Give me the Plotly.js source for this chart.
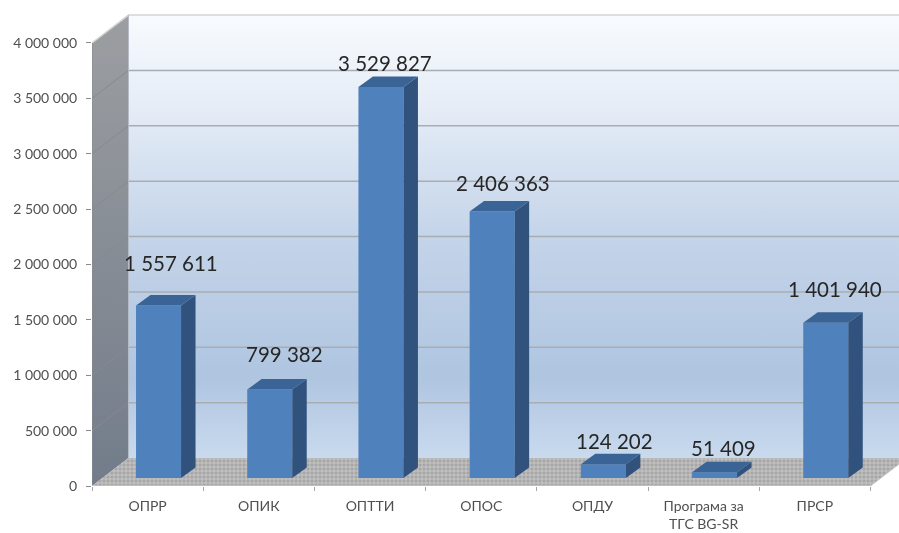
<!DOCTYPE html>
<html>
<head>
<meta charset="utf-8">
<script src="https://cdn.plot.ly/plotly-3.0.1.min.js"></script>
<style>
html,body{margin:0;padding:0;background:#fff;overflow:hidden}
#chart{width:899px;height:533px;filter:blur(0.6px)}
</style>
</head>
<body>
<div id="chart"></div>
<script>
const categories = ["ОПРР","ОПИК","ОПТТИ","ОПОС","ОПДУ","Програма за<br>ТГС BG-SR","ПРСР"];
const values = [1557611,799382,3529827,2406363,124202,51409,1401940];
const valueLabels = ["1 557 611","799 382","3 529 827","2 406 363","124 202","51 409","1 401 940"];
const yTicks = [0,500000,1000000,1500000,2000000,2500000,3000000,3500000,4000000];
const yTickLabels = ["0","500 000","1 000 000","1 500 000","2 000 000","2 500 000","3 000 000","3 500 000","4 000 000"];
const labelDx = [12,15,4,11,11,9,9];
const labelDy = [-43,-35,-24,-29,-23,-24,-34];

const font = "Lato, 'Open Sans', sans-serif";
const xMin = -0.5, xMax = 6.757, yMax = 4343000;
const wallDx = 0.328, wallDy = 252000;
const barBase = 72000, barLeft = -0.104, barWidth = 0.405, sideDx = 0.13, sideDy = 95000;
const backL = xMin + wallDx;
const n = categories.length;

const traces = [];
// back wall
traces.push({x:[backL,xMax+1,xMax+1,backL,backL],y:[wallDy,wallDy,4000000+wallDy,4000000+wallDy,wallDy],
  mode:'none',fill:'toself',
  fillgradient:{type:'vertical',colorscale:[[0,'#c9daee'],[0.18,'#afc5e0'],[0.5,'#c4d4e9'],[0.8,'#e6edf7'],[1,'#f8fbfe']]},
  hoverinfo:'skip'});
// side wall
traces.push({x:[xMin,backL,backL,xMin,xMin],y:[0,wallDy,4000000+wallDy,4000000,0],
  mode:'none',fill:'toself',
  fillgradient:{type:'vertical',colorscale:[[0,'#727c8a'],[1,'#9c9ea1']]},
  hoverinfo:'skip'});
// floor
traces.push({x:[xMin,backL,n-0.5+wallDx,n-0.5,xMin],y:[0,wallDy,wallDy,0,0],
  mode:'none',fill:'toself',fillcolor:'#b4b4b4',
  fillpattern:{shape:'+',fgcolor:'#d4d4d4',bgcolor:'#a6a6a6',size:4,solidity:0.3},
  hoverinfo:'skip'});
// gridlines
const gx=[],gy=[],dx=[],dy=[];
yTicks.slice(1,-1).forEach(v=>{gx.push(backL,xMax+1,null);gy.push(v+wallDy,v+wallDy,null);dx.push(xMin,backL,null);dy.push(v,v+wallDy,null);});
traces.push({x:gx,y:gy,mode:'lines',line:{color:'#a9adb2',width:1.5},hoverinfo:'skip'});
traces.push({x:dx,y:dy,mode:'lines',line:{color:'#868a90',width:1},hoverinfo:'skip'});
// top edge of wall
traces.push({x:[xMin,backL,xMax+1],y:[4000000,4000000+wallDy,4000000+wallDy],mode:'lines',line:{color:'#d2d4d6',width:1.5},hoverinfo:'skip'});
// back-left wall edge
traces.push({x:[backL,backL],y:[wallDy,4000000+wallDy],mode:'lines',line:{color:'#b5bcc5',width:1},hoverinfo:'skip'});
// axes lines
traces.push({x:[xMin,xMin],y:[0,4000000],mode:'lines',line:{color:'#8a8a8a',width:1},hoverinfo:'skip',cliponaxis:false});
traces.push({x:[xMin,n-0.5],y:[0,0],mode:'lines',line:{color:'#c4c4c4',width:1.5},hoverinfo:'skip',cliponaxis:false});
// floor right edge
traces.push({x:[n-0.5,n-0.5+wallDx],y:[0,wallDy],mode:'lines',line:{color:'#c8c8c8',width:1},hoverinfo:'skip'});

// bar fronts
traces.push({type:'bar',x:values.map((_,i)=>i),y:values,base:barBase,width:barWidth,offset:barLeft,
  marker:{color:'#4f81bd',line:{width:0}},xaxis:'x2',yaxis:'y2',hoverinfo:'skip'});
// bar sides and tops
const sx=[],sy=[],tx=[],ty=[];
values.forEach((v,i)=>{
  const l=i+barLeft,r=l+barWidth,t=v+barBase;
  sx.push(r,r+sideDx,r+sideDx,r,r,null);
  sy.push(barBase,barBase+sideDy,t+sideDy,t,barBase,null);
  tx.push(l,l+sideDx,r+sideDx,r,l,null);
  ty.push(t,t+sideDy,t+sideDy,t,t,null);
});
traces.push({x:sx,y:sy,mode:'none',fill:'toself',fillcolor:'#30527c',xaxis:'x2',yaxis:'y2',hoverinfo:'skip'});
traces.push({x:tx,y:ty,mode:'none',fill:'toself',fillcolor:'#3b6496',xaxis:'x2',yaxis:'y2',hoverinfo:'skip'});

const annotations = values.map((v,i)=>({
  x:i+barLeft+barWidth/2,y:v+barBase,xref:'x2',yref:'y2',text:valueLabels[i],showarrow:false,
  xanchor:'center',yanchor:'middle',xshift:labelDx[i],yshift:-labelDy[i],
  font:{family:font,size:20.5,color:'#262626'}
}));

Plotly.newPlot('chart',traces,{
  width:899,height:533,
  margin:{l:92,r:0,t:5,b:47},
  paper_bgcolor:'#fff',plot_bgcolor:'#fff',showlegend:false,hovermode:false,
  xaxis:{range:[xMin,xMax],type:'linear',showgrid:false,zeroline:false,showline:false,
    tickmode:'array',tickvals:categories.map((_,i)=>i),ticktext:categories,ticks:'',ticklabelstandoff:10,
    tickfont:{family:font,size:14,color:'#505050'},
    minor:{ticks:'outside',ticklen:4,tickcolor:'#a5a5a5',tickwidth:1,showgrid:false,tickmode:'array',tickvals:[-0.5,0.5,1.5,2.5,3.5,4.5,5.5,6.5]}},
  yaxis:{range:[0,yMax],showgrid:false,zeroline:false,showline:false,
    tickmode:'array',tickvals:yTicks,ticktext:yTickLabels,ticks:'outside',ticklen:5,tickcolor:'#8a8a8a',ticklabelstandoff:6,
    tickfont:{family:font,size:14,color:'#505050'}},
  xaxis2:{range:[xMin,xMax],overlaying:'x',visible:false,type:'linear'},
  yaxis2:{range:[0,yMax],overlaying:'y',visible:false},
  annotations
},{displayModeBar:false,staticPlot:true});
</script>
</body>
</html>
